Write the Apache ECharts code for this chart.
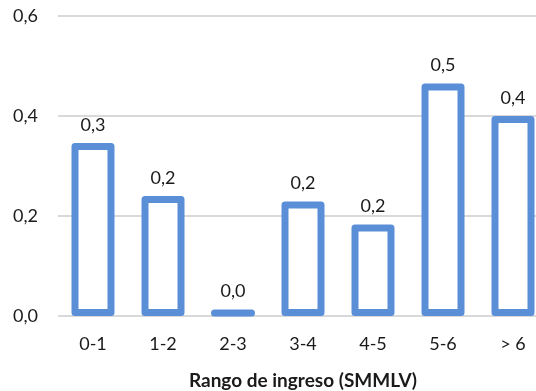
<!DOCTYPE html>
<html>
<head>
<meta charset="utf-8">
<script src="https://cdn.jsdelivr.net/npm/echarts@6/dist/echarts.min.js"></script>
<style>
  html, body { margin: 0; padding: 0; background: #ffffff; }
  #chart { width: 536px; height: 391px; }
</style>
</head>
<body>
<div id="chart"></div>
<script>
// Income ranges (in minimum monthly wages) and their share
const categories = ['0-1', '1-2', '2-3', '3-4', '4-5', '5-6', '> 6'];
const values = [0.346, 0.240, 0.012, 0.229, 0.183, 0.465, 0.400];
const yTicks = [0, 0.2, 0.4, 0.6];

const fmt = v => v.toFixed(1).replace('.', ',');

const chart = echarts.init(document.getElementById('chart'), null, { renderer: 'canvas' });
chart.setOption({
  animation: false,
  backgroundColor: '#ffffff',
  textStyle: { fontFamily: 'Lato' },
  grid: {
    left: 58, top: 16, width: 490, bottom: 75,
    containLabel: false,
    outerBoundsMode: 'none'
  },
  xAxis: {
    type: 'category',
    data: categories,
    name: 'Rango de ingreso (SMMLV)',
    nameLocation: 'middle',
    nameGap: 55,
    nameTextStyle: { fontFamily: 'Lato', fontWeight: 'bold', fontSize: 19, color: '#1a1a1a' },
    axisLine: { show: false },
    axisTick: { show: false },
    axisLabel: { fontFamily: 'Lato', fontSize: 18, color: '#1a1a1a', margin: 19 }
  },
  yAxis: {
    type: 'value',
    min: yTicks[0],
    max: yTicks[yTicks.length - 1],
    interval: 0.2,
    axisLine: { show: false },
    axisTick: { show: false },
    axisLabel: { fontFamily: 'Lato', fontSize: 18, color: '#1a1a1a', margin: 20, formatter: fmt },
    splitLine: { lineStyle: { color: '#d9d9d9', width: 2 } }
  },
  series: [{
    type: 'bar',
    data: values,
    barWidth: 43,
    itemStyle: { color: '#ffffff', borderColor: '#5a8fd7', borderWidth: 7, borderJoin: 'round' },
    label: {
      show: true,
      position: 'top',
      distance: 9,
      fontFamily: 'Lato',
      fontSize: 18,
      color: '#1a1a1a',
      formatter: p => fmt(p.value)
    }
  }]
});
</script>
</body>
</html>
